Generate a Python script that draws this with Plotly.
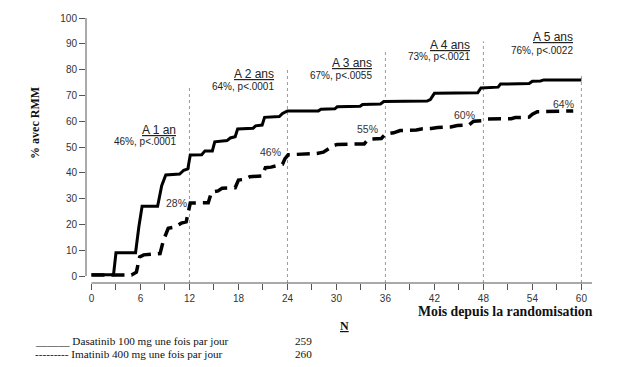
import plotly.graph_objects as go

# ---------------- data ----------------
dasa_t = [0, 2.7, 3.0, 5.4, 5.8, 6.2, 8.1, 8.6, 9.1, 10.8, 11.3, 11.8, 12.1, 13.5, 13.9,
          14.8, 15.1, 16.6, 17.0, 17.6, 17.9, 19.8, 20.1, 20.9, 21.2, 23.0, 23.4, 24.0,
          27.8, 28.1, 29.8, 30.1, 32.9, 33.2, 35.4, 35.8, 41.1, 41.5, 42.0, 47.3, 47.7,
          49.8, 50.1, 53.6, 54.0, 55.0, 55.4, 60.0]
dasa_v = [0.5, 0.5, 9, 9, 19, 27, 27, 35, 39.2, 39.5, 41, 41.5, 46.9, 47, 48.5,
          48.5, 52, 52.5, 53.5, 54, 57, 57.3, 58.2, 58.5, 61.5, 61.8, 63, 64,
          64, 64.6, 64.8, 65.6, 65.8, 66.5, 66.7, 67.6, 67.8, 68.4, 70.8, 71, 72.9,
          73.2, 74.4, 74.6, 75.5, 75.6, 76, 76]

imat_t = [0, 4.9, 5.5, 5.9, 6.4, 8.4, 8.8, 9.4, 10.2, 11.0, 11.6, 11.9, 12.1, 14.3,
          14.7, 15.5, 16.0, 17.6, 18.0, 18.8, 19.4, 20.9, 21.3, 22.0, 22.8, 23.4, 23.7,
          24.1, 27.6, 28.4, 29.6, 30.1, 33.4, 33.9, 35.5, 36.0, 37.0, 37.8, 39.8, 40.4,
          41.6, 42.4, 44.0, 44.8, 46.2, 46.8, 47.8, 48.4, 51.4, 51.9, 53.6, 54.0, 54.6,
          56.8, 57.2, 59.0]
imat_v = [0.4, 0.4, 1.5, 7.4, 8.2, 8.7, 13.7, 18.5, 19, 20.5, 21, 26.5, 28.3, 28.4,
          32.5, 33, 34, 34.2, 37.2, 37.5, 38.5, 38.8, 42, 42.2, 43, 43.3, 45.5,
          47, 47.5, 48, 50.5, 51, 51.2, 53, 53.3, 55, 55.5, 56.4, 56.6, 57,
          57.2, 57.6, 57.8, 58.3, 58.5, 60, 60.2, 60.8, 61, 61.4, 61.6, 62.7, 63.7,
          63.8, 64, 64]

year_months = [12, 24, 36, 48, 60]
year_line_tops = [73, 80.5, 87, 91, 78.6]
year_titles = ["A 1 an", "A 2 ans", "A 3 ans", "A 4 ans", "A 5 ans"]
year_stats = ["46%, p<.0001", "64%, p<.0001", "67%, p<.0055", "73%, p<.0021", "76%, p<.0022"]
year_title_y = [56.5, 78.4, 82.4, 89.4, 92.6]
year_stat_y = [52.2, 73.5, 77.6, 85.0, 87.5]

imat_labels = ["28%", "46%", "55%", "60%", "64%"]
imat_label_x = [12, 23.4, 35.3, 47.2, 59.4]
imat_label_y = [28.4, 48, 57, 62.3, 66.5]

x_ticks = [0, 6, 12, 18, 24, 30, 36, 42, 48, 54, 60]
y_ticks = [0, 10, 20, 30, 40, 50, 60, 70, 80, 90, 100]

arms = ["Dasatinib 100 mg une fois par jour", "Imatinib 400 mg une fois par jour"]
arm_n = ["259", "260"]

# ---------------- figure ----------------
fig = go.Figure()
fig.add_trace(go.Scatter(x=dasa_t, y=dasa_v, mode="lines",
                         line=dict(color="black", width=3), showlegend=False))
fig.add_trace(go.Scatter(x=imat_t, y=imat_v, mode="lines",
                         line=dict(color="black", width=3.5, dash="13px,7px"),
                         showlegend=False))

shapes = []
for xm, top in zip(year_months, year_line_tops):
    shapes.append(dict(type="line", xref="x", yref="y", x0=xm, x1=xm, y0=-2.7, y1=top,
                       line=dict(color="#9a9a9a", width=1, dash="dot"), layer="below"))
# R-style detached axis lines
shapes.append(dict(type="line", xref="x", yref="paper", x0=0, x1=61.3, y0=0, y1=0,
                   line=dict(color="#555", width=1)))
shapes.append(dict(type="line", xref="paper", yref="y", x0=0, x1=0, y0=0, y1=100,
                   line=dict(color="#555", width=1)))

ann = []
sans = "Liberation Sans, Arial, sans-serif"
serif = "Liberation Serif, Times New Roman, serif"
for xm, t, s, ty, sy in zip(year_months, year_titles, year_stats, year_title_y, year_stat_y):
    shift = -6 if xm == 60 else -11
    ann.append(dict(x=xm, y=ty, xref="x", yref="y", xanchor="right", yanchor="middle",
                    xshift=shift, showarrow=False,
                    text=f"<span style='text-decoration:underline'>{t}</span>",
                    font=dict(family=sans, size=12, color="#222")))
    ann.append(dict(x=xm, y=sy, xref="x", yref="y", xanchor="right", yanchor="middle",
                    xshift=shift, showarrow=False, text=s,
                    font=dict(family=sans, size=10, color="#222")))
for lbl, lx, ly in zip(imat_labels, imat_label_x, imat_label_y):
    ann.append(dict(x=lx, y=ly, xref="x", yref="y", xanchor="right", yanchor="middle",
                    showarrow=False, text=lbl,
                    font=dict(family=sans, size=10.5, color="#333")))

ann.append(dict(x=-0.1186, y=0.604, xref="paper", yref="paper", textangle=-90,
                showarrow=False, text="<b>% avec RMM</b>",
                font=dict(family=serif, size=12, color="#111")))
ann.append(dict(x=1.006, y=-0.106, xref="paper", yref="paper", xanchor="right",
                yanchor="middle", showarrow=False,
                text="<b>Mois depuis la randomisation</b>",
                font=dict(family=serif, size=13.8, color="#111")))
ann.append(dict(x=0.51, y=-0.161, xref="paper", yref="paper", xanchor="center",
                yanchor="middle", showarrow=False,
                text="<b><span style='text-decoration:underline'>N</span></b>",
                font=dict(family=serif, size=12, color="#111")))
ann.append(dict(x=-0.1047, y=-0.2185, xref="paper", yref="paper", xanchor="left",
                yanchor="middle", showarrow=False, text="______ " + arms[0],
                font=dict(family=serif, size=11.2, color="#111")))
ann.append(dict(x=-0.1047, y=-0.2667, xref="paper", yref="paper", xanchor="left",
                yanchor="middle", showarrow=False, text="--------- " + arms[1],
                font=dict(family=serif, size=11.2, color="#111")))
ann.append(dict(x=0.409, y=-0.2185, xref="paper", yref="paper", xanchor="left",
                yanchor="middle", showarrow=False, text=arm_n[0],
                font=dict(family=serif, size=11.2, color="#111")))
ann.append(dict(x=0.409, y=-0.2667, xref="paper", yref="paper", xanchor="left",
                yanchor="middle", showarrow=False, text=arm_n[1],
                font=dict(family=serif, size=11.2, color="#111")))

fig.update_layout(
    width=644, height=367,
    margin=dict(l=86, r=52, t=13, b=84),
    plot_bgcolor="white", paper_bgcolor="white",
    shapes=shapes, annotations=ann, showlegend=False,
    xaxis=dict(range=[-0.67, 61.3], tickvals=x_ticks, ticks="outside", ticklen=6,
               tickcolor="#555", showline=False, showgrid=False, zeroline=False,
               tickfont=dict(family=sans, size=10, color="#333"),
               minor=dict(dtick=3, tick0=0, ticks="outside", ticklen=6, tickcolor="#555",
                          showgrid=False)),
    yaxis=dict(range=[-2.7, 100], tickvals=y_ticks, ticks="outside", ticklen=6,
               tickcolor="#555", showline=False, showgrid=False, zeroline=False,
               tickfont=dict(family=sans, size=10, color="#333")),
)

fig.write_html("out.html", config={"displayModeBar": False},
               post_script="document.body.style.margin='0';document.body.style.overflow='hidden';")
